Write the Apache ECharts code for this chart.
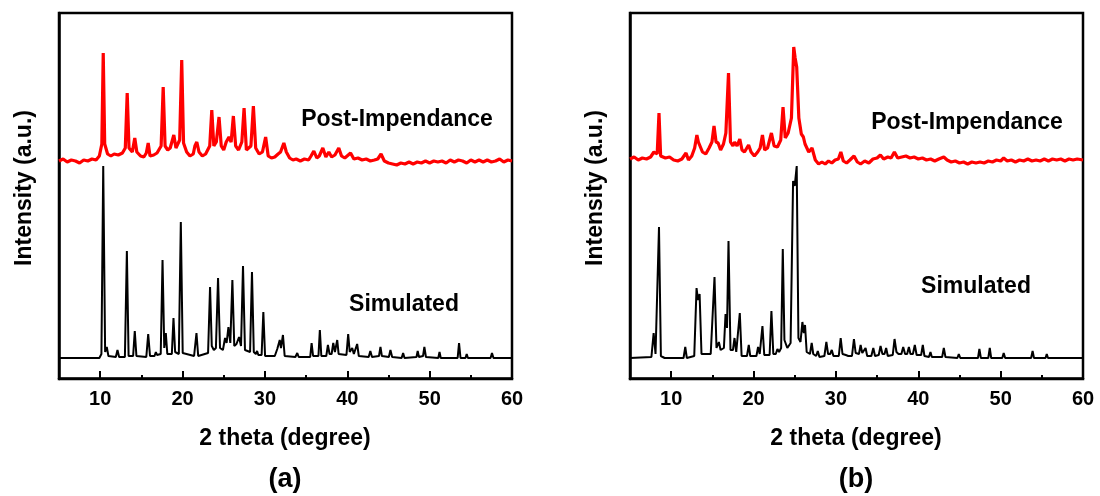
<!DOCTYPE html>
<html>
<head>
<meta charset="utf-8">
<script src="https://cdn.jsdelivr.net/npm/echarts@6/dist/echarts.min.js"></script>
<style>html,body{margin:0;padding:0;background:#fff}#c{width:1100px;height:496px}</style>
</head>
<body>
<div id="c"></div>
<script>
// ---- data: [2theta, intensity (arbitrary, offset)] ----
const majorTicks = [10, 20, 30, 40, 50, 60];
const minorTicks = [15, 25, 35, 45, 55];

const simA = [[5,20],[9.9,20],[10.15,24],[10.37,212],[10.6,26],[10.8,31],[11.0,22],[11.9,21],[12.1,28],[12.3,21],[13.0,21],[13.24,127],[13.45,22],[14.0,22],[14.2,47],[14.4,22],[15.6,21],[15.83,44],[16.05,22],[16.6,22],[16.76,26],[16.9,23],[17.35,24],[17.57,118],[17.78,30],[17.97,45],[18.15,24],[18.7,24],[18.9,60],[19.1,26],[19.55,24],[19.79,156],[20.02,25],[21.4,22],[21.69,45],[21.9,22],[23.1,25],[23.34,91],[23.55,32],[23.8,28],[24.05,30],[24.31,100],[24.55,30],[24.9,28],[25.16,40],[25.35,35],[25.57,51],[25.8,35],[26.05,98],[26.28,32],[26.55,34],[26.86,41],[27.1,32],[27.34,112],[27.58,28],[28.2,26],[28.43,106],[28.65,26],[28.9,24],[29.05,27],[29.2,23],[29.6,23],[29.81,66],[30.02,22],[31.2,22],[31.5,29],[31.65,27],[31.8,38],[31.95,30],[32.19,43],[32.4,22],[33.7,21],[33.93,25],[34.1,21],[35.5,21],[35.67,35],[35.85,22],[36.5,22],[36.67,48],[36.85,22],[37.45,22],[37.65,33],[37.85,24],[38.1,24],[38.3,35],[38.5,26],[38.78,38],[38.95,24],[39.9,23],[40.11,44],[40.3,26],[40.6,30],[40.8,24],[41.2,34],[41.4,22],[42.6,21],[42.8,27],[43.0,21],[43.85,22],[44.03,31],[44.2,22],[45.05,21],[45.24,28],[45.45,21],[46.6,20],[46.78,25],[46.95,20],[48.4,21],[48.55,27],[48.7,21],[49.2,22],[49.36,31],[49.55,21],[51.05,20],[51.2,26],[51.35,20],[53.4,20],[53.57,35],[53.75,20],[54.35,20],[54.5,24],[54.65,20],[57.4,20],[57.57,25],[57.75,20],[60,20]];

const postA = [[5,217],[5.5,219],[6,216],[6.5,218],[7,217],[7.5,215],[8,218],[8.5,217],[9,219],[9.5,218],[9.9,222],[10.2,234],[10.37,325],[10.55,234],[10.9,224],[11.3,222],[11.7,224],[12.2,223],[12.7,225],[13.05,230],[13.28,285],[13.5,230],[13.9,226],[14.2,240],[14.45,226],[14.9,222],[15.3,221],[15.6,225],[15.83,235],[16.05,222],[16.5,223],[16.9,225],[17.4,232],[17.65,291],[17.88,232],[18.2,228],[18.5,230],[18.94,243],[19.2,230],[19.65,238],[19.9,318],[20.12,235],[20.5,226],[20.9,222],[21.3,224],[21.5,232],[21.73,236],[22.0,226],[22.4,222],[22.8,224],[23.3,232],[23.55,268],[23.8,232],[24.1,236],[24.43,261],[24.7,232],[25.0,228],[25.3,236],[25.64,241],[25.9,236],[26.17,262],[26.45,232],[26.8,228],[27.2,236],[27.47,270],[27.75,228],[28.3,232],[28.6,272],[28.88,230],[29.3,224],[29.7,226],[30.09,241],[30.4,222],[30.8,220],[31.2,221],[31.6,224],[31.9,226],[32.3,235],[32.6,226],[33.0,220],[33.4,218],[33.8,219],[34.3,217],[34.8,219],[35.3,218],[35.6,222],[35.94,227],[36.3,220],[36.6,222],[37.03,230],[37.4,221],[37.76,226],[38.1,221],[38.5,223],[38.97,230],[39.3,222],[39.7,220],[40.4,225],[40.8,219],[41.3,220],[41.8,218],[42.3,219],[42.8,217],[43.3,218],[43.7,219],[44.1,224],[44.5,217],[45.0,215],[45.5,214],[46,213],[46.5,215],[47,214],[47.5,216],[48,214],[48.5,216],[49,215],[49.5,217],[50,215],[50.5,217],[51,216],[51.5,217],[52,215],[52.5,218],[53,216],[53.5,218],[54,217],[54.5,215],[55,218],[55.5,216],[56,218],[56.5,216],[57,218],[57.5,216],[58,217],[58.5,219],[59,216],[59.5,218],[60,217]];

const simB = [[5,20],[7.6,21],[7.87,45],[8.1,24],[8.3,26],[8.52,151],[8.75,22],[9.2,20],[11.5,20],[11.71,31],[11.9,20],[12.8,22],[13.08,90],[13.25,78],[13.45,84],[13.68,24],[14.8,24],[15.26,101],[15.5,30],[15.79,36],[16.0,28],[16.4,30],[16.6,64],[16.78,50],[16.96,137],[17.2,28],[17.5,28],[17.69,40],[17.9,26],[18.1,26],[18.33,65],[18.55,22],[19.2,22],[19.42,33],[19.6,22],[20.35,22],[20.55,31],[20.75,24],[20.9,24],[21.08,52],[21.3,23],[21.95,23],[22.17,67],[22.4,24],[22.7,24],[22.9,29],[23.1,26],[23.35,30],[23.55,129],[23.75,38],[23.9,40],[24.1,30],[24.5,35],[24.8,197],[25.0,192],[25.24,212],[25.45,40],[25.7,36],[25.93,56],[26.1,45],[26.25,53],[26.45,26],[26.85,24],[27.06,35],[27.25,24],[27.6,22],[27.8,27],[28.0,21],[28.6,22],[28.84,36],[29.05,24],[29.3,24],[29.5,28],[29.7,22],[30.35,22],[30.58,40],[30.8,24],[31.2,23],[31.5,22],[31.95,22],[32.19,39],[32.4,25],[32.8,24],[33.0,33],[33.2,25],[33.6,30],[33.8,22],[34.3,22],[34.54,30],[34.75,22],[35.2,23],[35.42,32],[35.65,24],[35.9,24],[36.1,30],[36.3,22],[36.9,23],[37.12,39],[37.35,26],[37.6,24],[37.95,24],[38.17,31],[38.4,24],[38.65,24],[38.86,31],[39.05,24],[39.35,24],[39.58,33],[39.8,23],[40.35,23],[40.55,33],[40.75,22],[41.3,21],[41.48,26],[41.65,21],[42.9,21],[43.1,30],[43.3,21],[44.75,20],[44.92,24],[45.1,20],[47.25,20],[47.42,29],[47.6,20],[48.5,20],[48.68,30],[48.85,20],[50.2,20],[50.37,25],[50.55,20],[53.7,20],[53.88,27],[54.05,20],[55.45,20],[55.6,24],[55.75,20],[60,20]];

const postB = [[5,219],[5.5,221],[6,218],[6.5,220],[7,219],[7.5,221],[7.9,226],[8.3,224],[8.52,265],[8.72,222],[9.3,220],[9.8,221],[10.3,218],[10.8,217],[11.3,219],[11.8,225],[12.1,218],[12.5,222],[12.85,230],[13.12,243],[13.3,236],[13.5,238],[13.8,226],[14.2,224],[14.6,230],[14.95,236],[15.2,252],[15.45,236],[15.7,235],[16.0,228],[16.35,234],[16.64,245],[16.96,305],[17.2,236],[17.5,232],[17.7,236],[18.0,232],[18.33,239],[18.6,228],[18.9,226],[19.4,233],[19.7,226],[20.1,222],[20.5,226],[20.8,230],[21.08,243],[21.35,228],[21.7,230],[22.17,245],[22.5,232],[22.9,231],[23.3,238],[23.58,271],[23.85,240],[24.2,245],[24.6,260],[24.88,331],[25.05,320],[25.24,311],[25.5,260],[25.8,244],[26.05,241],[26.25,234],[26.45,236],[26.7,226],[27.1,230],[27.5,218],[27.9,214],[28.3,216],[28.7,214],[29.1,217],[29.5,215],[29.9,218],[30.3,219],[30.6,226],[30.9,217],[31.3,215],[31.7,218],[32.2,222],[32.6,216],[33.0,214],[33.5,217],[34.0,215],[34.5,219],[35.0,220],[35.4,223],[35.8,219],[36.3,221],[36.7,220],[37.1,226],[37.5,220],[38,221],[38.5,222],[39,220],[39.5,221],[40,219],[40.5,220],[41,218],[41.5,219],[42,217],[42.5,219],[43.1,221],[43.5,218],[44,216],[44.5,217],[45,215],[45.5,216],[46,214],[46.5,216],[47,215],[47.5,216],[48,215],[48.5,217],[49,216],[49.5,218],[50,217],[50.37,220],[50.8,217],[51.3,218],[51.8,216],[52.3,218],[52.8,217],[53.3,219],[53.8,217],[54.3,218],[54.8,217],[55.3,219],[55.8,217],[56.3,219],[56.8,218],[57.3,219],[57.8,217],[58.3,219],[58.8,218],[59.3,219],[60,218]];

const FONT = '"Liberation Sans", Arial, Helvetica, sans-serif';

function mkX(grid) {
  return [
    { type: 'value', gridIndex: grid, min: 5, max: 60, position: 'bottom',
      axisLine: { show: true, lineStyle: { color: '#000', width: 2.5 } },
      axisTick: { show: true, inside: true, length: 7, customValues: majorTicks, lineStyle: { color: '#000', width: 2 } },
      axisLabel: { show: true, customValues: majorTicks, margin: 10, color: '#000', fontSize: 20, fontWeight: 'bold', fontFamily: FONT },
      splitLine: { show: false } },
    { type: 'value', gridIndex: grid, min: 5, max: 60, position: 'bottom',
      axisLine: { show: false },
      axisTick: { show: true, inside: true, length: 4, customValues: minorTicks, lineStyle: { color: '#000', width: 2 } },
      axisLabel: { show: false },
      splitLine: { show: false } }
  ];
}
function mkY(grid) {
  return { type: 'value', gridIndex: grid, min: -1, max: 365,
    axisLine: { show: true, lineStyle: { color: '#000', width: 2.5 } },
    axisTick: { show: false }, axisLabel: { show: false }, splitLine: { show: false } };
}

const chart = echarts.init(document.getElementById('c'), null, { renderer: 'canvas' });
function label(x, y, s, size, rot) {
  return { type: 'text', x: x, y: y, rotation: rot || 0,
    style: { text: s, fill: '#000', font: 'bold ' + size + 'px ' + FONT, align: 'center', verticalAlign: 'middle' } };
}

chart.setOption({
  animation: false,
  backgroundColor: '#fff',
  grid: [
    { left: 59, top: 13, width: 453, height: 366, show: true, borderColor: '#000', borderWidth: 2.5, containLabel: false },
    { left: 630, top: 13, width: 453, height: 366, show: true, borderColor: '#000', borderWidth: 2.5, containLabel: false }
  ],
  xAxis: [...mkX(0), ...mkX(1)],
  yAxis: [mkY(0), mkY(1)],
  series: [
    { type: 'line', name: 'Simulated', xAxisIndex: 0, yAxisIndex: 0, data: simA, showSymbol: false, lineStyle: { color: '#000', width: 2 }, z: 2 },
    { type: 'line', name: 'Post-Impendance', xAxisIndex: 0, yAxisIndex: 0, data: postA, showSymbol: false, lineStyle: { color: '#ff0000', width: 3.2 }, z: 3 },
    { type: 'line', name: 'Simulated', xAxisIndex: 2, yAxisIndex: 1, data: simB, showSymbol: false, lineStyle: { color: '#000', width: 2 }, z: 2 },
    { type: 'line', name: 'Post-Impendance', xAxisIndex: 2, yAxisIndex: 1, data: postB, showSymbol: false, lineStyle: { color: '#ff0000', width: 3.2 }, z: 3 }
  ],
  graphic: [
    label(25, 188, 'Intensity (a.u.)', 23, Math.PI / 2),
    label(596, 188, 'Intensity (a.u.)', 23, Math.PI / 2),
    label(285, 439, '2 theta (degree)', 23),
    label(856, 439, '2 theta (degree)', 23),
    label(285, 480, '(a)', 27),
    label(856, 480, '(b)', 27),
    label(397, 120, 'Post-Impendance', 23),
    label(404, 305, 'Simulated', 23),
    label(967, 123, 'Post-Impendance', 23),
    label(976, 287, 'Simulated', 23)
  ]
});
</script>
</body>
</html>
